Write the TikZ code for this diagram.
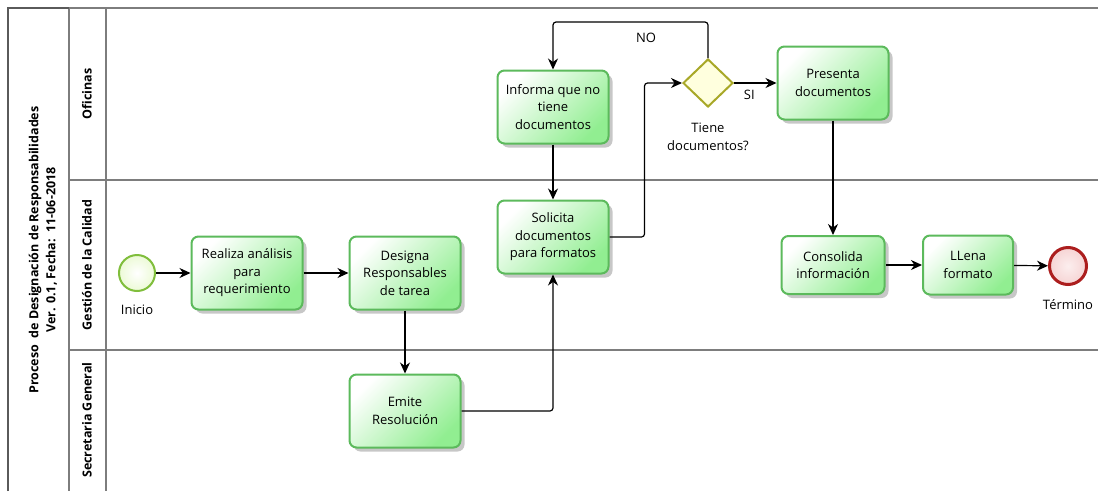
\documentclass[tikz,border=0pt]{standalone}
\usepackage{fontspec}
\setmainfont{Open Sans}
\usetikzlibrary{arrows.meta,shadows,shapes.geometric}

\definecolor{laneline}{RGB}{125,125,125}
\definecolor{pooledge}{RGB}{90,90,90}
\definecolor{taskborder}{RGB}{92,186,92}
\definecolor{taskfill}{RGB}{145,238,145}
\definecolor{gwborder}{RGB}{168,168,40}
\definecolor{gwfill}{RGB}{255,255,222}
\definecolor{startborder}{RGB}{128,190,60}
\definecolor{startfill}{RGB}{236,250,214}
\definecolor{endborder}{RGB}{172,30,30}
\definecolor{endfill}{RGB}{246,212,212}

\tikzset{
  x=1pt, y=-1pt,
  pool/.style={draw=laneline, line width=1.5pt},
  task/.style={rectangle, rounded corners=7pt, draw=taskborder, line width=2pt,
    top color=white, bottom color=taskfill, shading angle=45,
    minimum width=111pt, minimum height=73pt, inner sep=2pt, align=center,
    font=\fontsize{13}{17.5}\selectfont,
    drop shadow={shadow xshift=4pt, shadow yshift=-4pt, opacity=0.22, fill=black}},
  gateway/.style={diamond, aspect=1, inner sep=0pt, minimum width=50pt, minimum height=48pt,
    draw=gwborder, line width=2pt, fill=gwfill},
  startev/.style={circle, inner sep=0pt, minimum size=36pt, draw=startborder,
    line width=2pt, inner color=white, outer color=startfill},
  endev/.style={circle, inner sep=0pt, minimum size=37pt, draw=endborder,
    line width=3pt, inner color=white!60!endfill, outer color=endfill},
  txt/.style={font=\fontsize{13}{17.5}\selectfont, align=center, inner sep=1pt},
  lanetitle/.style={rotate=90, font=\bfseries\fontsize{12.5}{17}\selectfont, align=center},
  flow/.style={draw=black, line width=1.2pt, rounded corners=3pt,
    -{Stealth[length=11pt, width=10pt, inset=3.5pt]}},
}

\begin{document}
\begin{tikzpicture}
  % canvas
  \path[fill=white, use as bounding box] (0,0) rectangle (1098,491);

  % pool and lanes
  \draw[pool] (69,8) -- (1098,8);
  \draw[pool] (69,8) -- (69,491);
  \draw[pool] (106,8) -- (106,491);
  \draw[pool] (69,180) -- (1098,180);
  \draw[pool] (69,350) -- (1098,350);
  \draw[draw=pooledge, line width=1.5pt] (8,491) -- (8,8) -- (69,8);

  \node[lanetitle] (pooltitle) at (43,250)
    {Proceso\ \ de Designación de Responsabilidades\\Ver. 0.1, Fecha:\ \ 11-06-2018};
  \node[lanetitle] (laneofi) at (87,94) {Oficinas};
  \node[lanetitle] (lanegc) at (87,265) {Gestión de la Calidad};
  \node[lanetitle] (lanesg) at (87,420) {Secretaria General};

  % events, tasks and gateway
  \node[startev] (start) at (137,273) {};
  \node[txt] (startlbl) at (137,310) {Inicio};
  \node[task] (realiza) at (247,273) {Realiza análisis\\para\\requerimiento};
  \node[task] (designa) at (405,273) {Designa\\Responsables\\de tarea};
  \node[task] (emite) at (405,411) {Emite\\Resolución};
  \node[task] (solicita) at (553,237) {Solicita\\documentos\\para formatos};
  \node[task] (informa) at (553,107) {Informa que no\\tiene\\documentos};
  \node[gateway] (gw) at (708,83) {};
  \node[txt] (gwlbl) at (708,137) {Tiene\\documentos?};
  \node[task] (presenta) at (833,83) {Presenta\\documentos};
  \node[task, minimum width=103pt, minimum height=58pt] (consolida) at (833,265) {Consolida\\información};
  \node[task, minimum width=90pt, minimum height=59pt] (llena) at (968,265) {LLena\\formato};
  \node[endev] (end) at (1068,266) {};
  \node[txt] (endlbl) at (1068,305) {Término};

  % sequence flows
  \draw[flow] (start) -- (realiza);
  \draw[flow] (realiza) -- (designa);
  \draw[flow] (designa) -- (emite);
  \draw[flow] (emite.east) -| (solicita.south);
  \draw[flow] (informa) -- (solicita);
  \draw[flow] (solicita.east) -- ++(35,0) |- (gw.west);
  \draw[flow] (gw.east) -- (presenta.west) node[txt, pos=0.36, below=5pt] (silbl) {SI};
  \draw[flow] (gw.north) -- ++(0,-36) -| (informa.north) node[txt, pos=0.2, below=9pt] (nolbl) {NO};
  \draw[flow] (presenta) -- (consolida);
  \draw[flow] (consolida) -- (llena);
  \draw[flow] (llena) -- (end);
\end{tikzpicture}
\end{document}
